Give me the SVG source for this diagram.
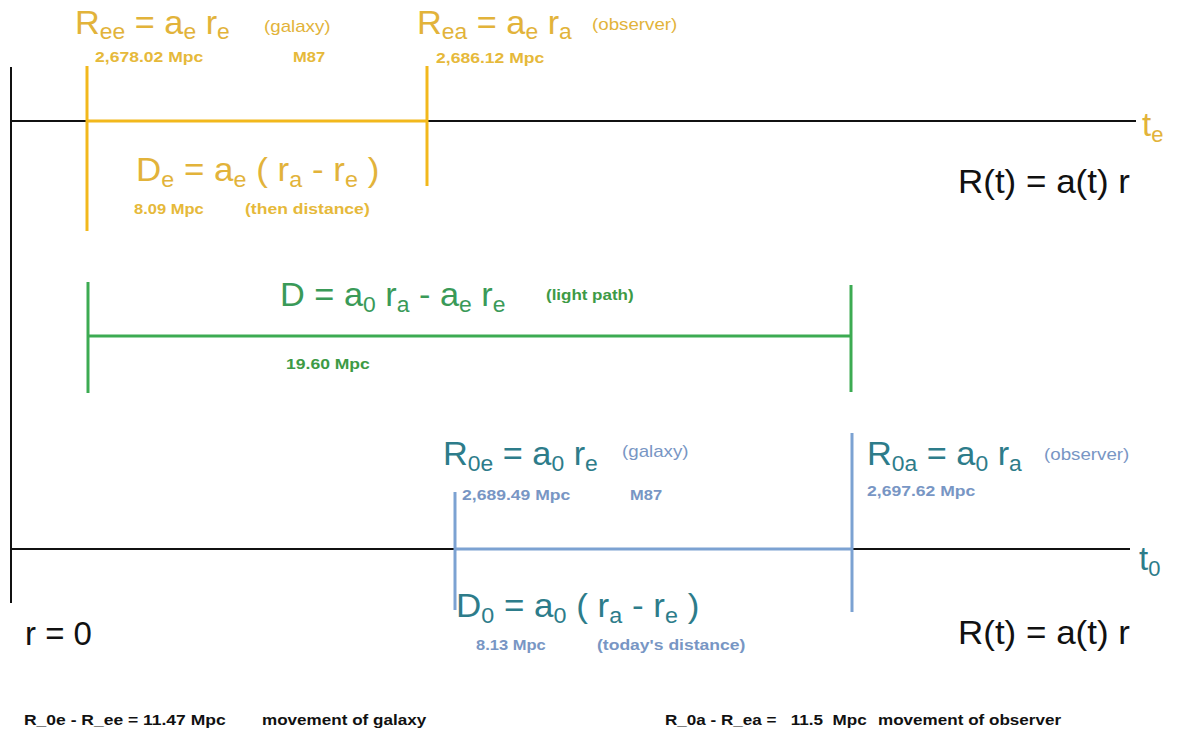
<svg xmlns="http://www.w3.org/2000/svg" width="1183" height="736" viewBox="0 0 1183 736">
<style>
text{font-family:"Liberation Sans",Arial,sans-serif}
.f{font-size:33px}
.sub{font-size:22px}
.sm{font-size:15px;font-weight:bold}
.lbl{font-size:16px}
.note{font-size:14px;font-weight:bold;fill:#111}
.gold{fill:#e2b33a}
.goldS{fill:#e6b93a}
.green{fill:#3a9a58}
.greenS{fill:#3d9a45}
.teal{fill:#2d7c8a}
.blueS{fill:#7896c4}
.blk{fill:#111}
.ax{stroke:#111;stroke-width:2;fill:none}
.o{stroke:#f2b81c;stroke-width:3;fill:none}
.g{stroke:#3cab52;stroke-width:3;fill:none}
.b{stroke:#7ca2d2;stroke-width:3;fill:none}
</style>
<rect width="1183" height="736" fill="#fff"/>
<g id="connectors">
<line class="ax" x1="11" y1="67" x2="11" y2="603"/>
<line class="ax" x1="11" y1="121" x2="1136" y2="121"/>
<line class="ax" x1="11" y1="549" x2="1130" y2="549"/>
<line class="o" x1="87" y1="121" x2="427" y2="121"/>
<line class="o" x1="87" y1="66" x2="87" y2="231"/>
<line class="o" x1="427" y1="66" x2="427" y2="186"/>
<line class="g" x1="88" y1="336" x2="851" y2="336"/>
<line class="g" x1="88" y1="282" x2="88" y2="393"/>
<line class="g" x1="851" y1="285" x2="851" y2="392"/>
<line class="b" x1="455" y1="549" x2="852" y2="549"/>
<line class="b" x1="455" y1="492" x2="455" y2="610"/>
<line class="b" x1="852" y1="433" x2="852" y2="612"/>
</g>
<g id="node-ree">
<text class="f gold" transform="translate(75 34) scale(1.04 1)">R<tspan class="sub" dy="5">ee</tspan><tspan dy="-5"> = a</tspan><tspan class="sub" dy="5">e</tspan><tspan dy="-5"> r</tspan><tspan class="sub" dy="5">e</tspan></text>
<text class="lbl gold" transform="translate(264 32) scale(1.17 1)">(galaxy)</text>
<text class="sm goldS" transform="translate(95 62) scale(1.17 1)">2,678.02 Mpc</text>
<text class="sm goldS" transform="translate(293 62) scale(1.1 1)">M87</text>
</g>
<g id="node-rea">
<text class="f gold" transform="translate(417 34) scale(1.04 1)">R<tspan class="sub" dy="5">ea</tspan><tspan dy="-5"> = a</tspan><tspan class="sub" dy="5">e</tspan><tspan dy="-5"> r</tspan><tspan class="sub" dy="5">a</tspan></text>
<text class="lbl gold" transform="translate(592 30) scale(1.17 1)">(observer)</text>
<text class="sm goldS" transform="translate(436 63) scale(1.17 1)">2,686.12 Mpc</text>
</g>
<g id="node-de">
<text class="f gold" transform="translate(136 181) scale(1.06 1)">D<tspan class="sub" dy="6">e</tspan><tspan dy="-6"> = a</tspan><tspan class="sub" dy="6">e</tspan><tspan dy="-6"> ( r</tspan><tspan class="sub" dy="6">a</tspan><tspan dy="-6"> - r</tspan><tspan class="sub" dy="6">e</tspan><tspan dy="-6"> )</tspan></text>
<text class="sm goldS" transform="translate(134 214) scale(1.1 1)">8.09 Mpc</text>
<text class="sm goldS" transform="translate(245 214) scale(1.17 1)">(then distance)</text>
</g>
<g id="node-te">
<text class="f gold" x="1142" y="136">t<tspan class="sub" dy="6">e</tspan></text>
</g>
<g id="node-rt-top">
<text class="f blk" transform="translate(958 193) scale(1.06 1)">R(t) = a(t) r</text>
</g>
<g id="node-d">
<text class="f green" transform="translate(280 306) scale(1.04 1)">D = a<tspan class="sub" dy="6">0</tspan><tspan dy="-6"> r</tspan><tspan class="sub" dy="6">a</tspan><tspan dy="-6"> - a</tspan><tspan class="sub" dy="6">e</tspan><tspan dy="-6"> r</tspan><tspan class="sub" dy="6">e</tspan></text>
<text class="sm greenS" style="font-size:14.5px" transform="translate(546 300) scale(1.17 1)">(light path)</text>
<text class="sm greenS" transform="translate(286 369) scale(1.17 1)">19.60 Mpc</text>
</g>
<g id="node-r0e">
<text class="f teal" transform="translate(443 465) scale(1.04 1)">R<tspan class="sub" dy="6">0e</tspan><tspan dy="-6"> = a</tspan><tspan class="sub" dy="6">0</tspan><tspan dy="-6"> r</tspan><tspan class="sub" dy="6">e</tspan></text>
<text class="lbl blueS" transform="translate(622 457) scale(1.17 1)">(galaxy)</text>
<text class="sm blueS" transform="translate(462 500) scale(1.17 1)">2,689.49  Mpc</text>
<text class="sm blueS" transform="translate(630 500) scale(1.1 1)">M87</text>
</g>
<g id="node-r0a">
<text class="f teal" transform="translate(867 465) scale(1.04 1)">R<tspan class="sub" dy="6">0a</tspan><tspan dy="-6"> = a</tspan><tspan class="sub" dy="6">0</tspan><tspan dy="-6"> r</tspan><tspan class="sub" dy="6">a</tspan></text>
<text class="lbl blueS" transform="translate(1044 460) scale(1.17 1)">(observer)</text>
<text class="sm blueS" transform="translate(867 496) scale(1.17 1)">2,697.62 Mpc</text>
</g>
<g id="node-d0">
<text class="f teal" transform="translate(456 617) scale(1.06 1)">D<tspan class="sub" dy="6">0</tspan><tspan dy="-6"> = a</tspan><tspan class="sub" dy="6">0</tspan><tspan dy="-6"> ( r</tspan><tspan class="sub" dy="6">a</tspan><tspan dy="-6"> - r</tspan><tspan class="sub" dy="6">e</tspan><tspan dy="-6"> )</tspan></text>
<text class="sm blueS" transform="translate(476 650) scale(1.1 1)">8.13  Mpc</text>
<text class="sm blueS" transform="translate(597 650) scale(1.17 1)">(today's distance)</text>
</g>
<g id="node-t0">
<text class="f teal" x="1139" y="570">t<tspan class="sub" dy="6">0</tspan></text>
</g>
<g id="node-rt-bottom">
<text class="f blk" transform="translate(958 644) scale(1.06 1)">R(t) = a(t) r</text>
</g>
<g id="node-r0">
<text class="f blk" x="25" y="645">r = 0</text>
</g>
<g id="node-notes">
<text class="note" transform="translate(24 725) scale(1.25 1)">R_0e - R_ee = 11.47 Mpc</text>
<text class="note" transform="translate(262 725) scale(1.22 1)">movement of galaxy</text>
<text class="note" transform="translate(665 725) scale(1.22 1)" xml:space="preserve">R_0a - R_ea =   11.5  Mpc</text>
<text class="note" transform="translate(878 725) scale(1.22 1)">movement of observer</text>
</g>
</svg>
